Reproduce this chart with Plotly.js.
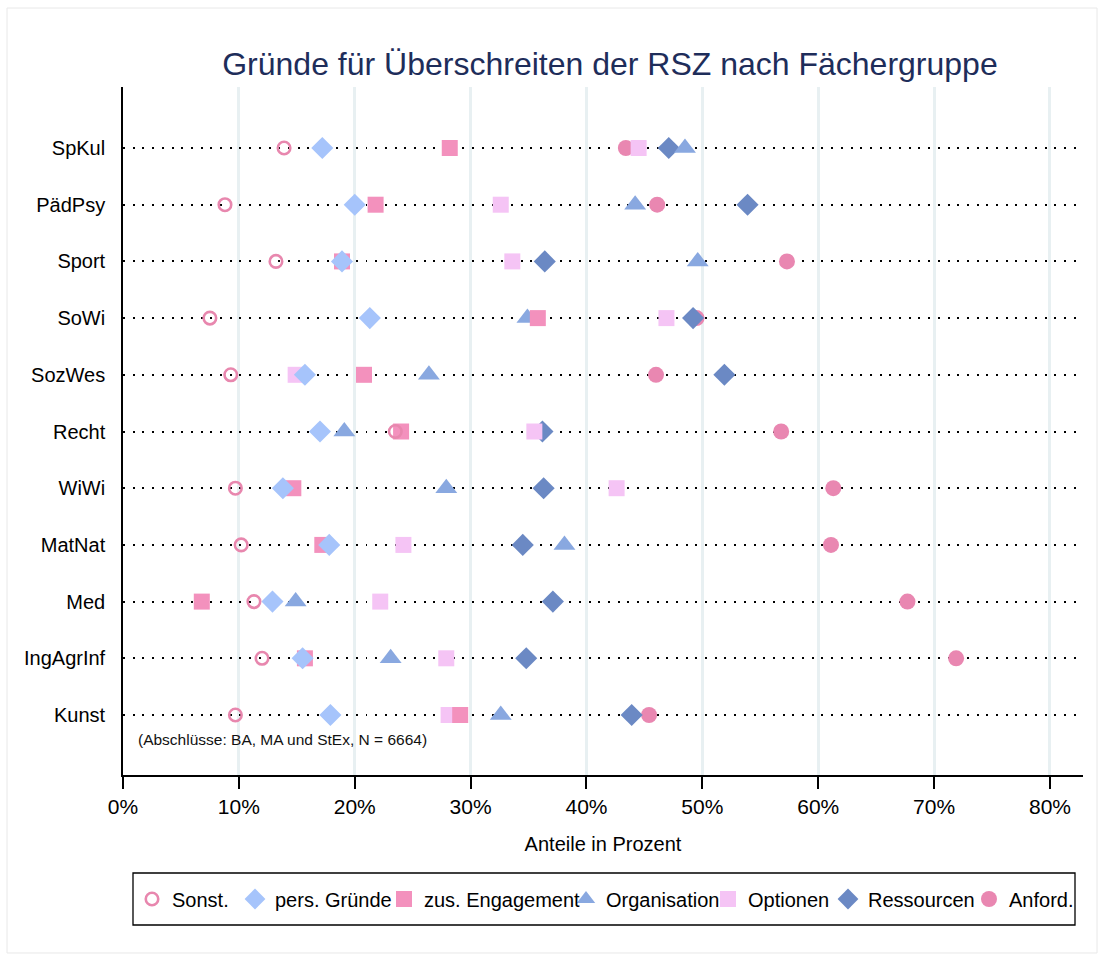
<!DOCTYPE html>
<html>
<head>
<meta charset="utf-8">
<script src="https://cdn.plot.ly/plotly-3.0.1.min.js"></script>
<style>html,body{margin:0;padding:0;background:#fff;}#chart{width:1105px;height:961px;}</style>
</head>
<body>
<div id="chart"></div>
<script>
// Categories, top to bottom as shown
const categories = ["SpKul","PädPsy","Sport","SoWi","SozWes","Recht","WiWi","MatNat","Med","IngAgrInf","Kunst"];

// Series values (percent), in the same order as categories
const sonst        = [13.9, 8.8, 13.2, 7.5, 9.3, 23.5, 9.7, 10.2, 11.3, 12.0, 9.7];
const persGruende  = [17.2, 20.0, 18.9, 21.3, 15.7, 17.0, 13.8, 17.8, 12.9, 15.5, 17.9];
const zusEngage    = [28.2, 21.8, 18.9, 35.8, 20.8, 24.0, 14.7, 17.2, 6.8, 15.7, 29.1];
const organisation = [48.5, 44.2, 49.6, 34.9, 26.4, 19.1, 27.9, 38.1, 14.9, 23.1, 32.6];
const optionen     = [44.5, 32.6, 33.6, 46.9, 14.9, 35.5, 42.6, 24.2, 22.2, 27.9, 28.1];
const ressourcen   = [47.1, 53.9, 36.4, 49.2, 51.9, 36.2, 36.3, 34.5, 37.1, 34.8, 43.9];
const anford       = [43.4, 46.1, 57.3, 49.5, 46.0, 56.8, 61.3, 61.1, 67.7, 71.9, 45.4];

const xTicks = [0, 10, 20, 30, 40, 50, 60, 70, 80];
const xTickLabels = ["0%","10%","20%","30%","40%","50%","60%","70%","80%"];

const seriesNames = ["Sonst.","pers. Gründe","zus. Engagement","Organisation","Optionen","Ressourcen","Anford."];

const font = "Liberation Sans, Arial, sans-serif";

// plot area geometry (pixels) used to place legend entries
const PL = 123, PW = 960, PB = 775, PH = 688;
const legendSymbolX = [152, 255, 404, 586, 728, 848, 989];
const legendY = 899;

function tr(idx, vals, symbol, color, size, open) {
  const m = {symbol: symbol, size: size, color: color, line: {width: 0}};
  if (open) { m.color = 'rgba(0,0,0,0)'; m.line = {width: 2.6, color: color}; }
  return {type: 'scatter', mode: 'markers', name: seriesNames[idx], x: vals, y: categories,
          marker: m, cliponaxis: false, hoverinfo: 'x+y+name',
          legend: idx === 0 ? 'legend' : 'legend' + (idx + 1)};
}

// Drawn in reverse legend order (later series beneath earlier ones)
const data = [
  tr(6, anford, 'circle', '#e987b1', 16, false),
  tr(5, ressourcen, 'diamond', '#6b89c4', 17, false),
  tr(4, optionen, 'square', '#f5c4f5', 16, false),
  tr(3, organisation, 'triangle-up', '#89a8e0', 19, false),
  tr(2, zusEngage, 'square', '#f391bd', 16, false),
  tr(1, persGruende, 'diamond', '#a6c4fb', 17, false),
  tr(0, sonst, 'circle', '#e887ae', 12.5, true)
];

const layout = {
  width: 1105, height: 961,
  margin: {l: 123, r: 22, t: 87, b: 186},
  paper_bgcolor: '#ffffff', plot_bgcolor: '#ffffff',
  font: {family: font, color: '#000'},
  title: {text: 'Gründe für Überschreiten der RSZ nach Fächergruppe',
          font: {family: font, size: 32, color: '#1e2d5a'},
          xref: 'container', x: 0.552, xanchor: 'center',
          yref: 'container', y: 0.934, yanchor: 'middle'},
  xaxis: {
    range: [0, 82.85], tickmode: 'array', tickvals: xTicks, ticktext: xTickLabels,
    showgrid: true, gridcolor: '#e8f0f2', gridwidth: 2.5,
    zeroline: false, showline: true, linecolor: '#000', linewidth: 1.6,
    ticks: 'outside', ticklen: 12, tickwidth: 1.6, tickcolor: '#000',
    tickfont: {family: font, size: 21, color: '#000'},
    title: {text: 'Anteile in Prozent', font: {family: font, size: 20, color: '#000'}, standoff: 20},
    fixedrange: true
  },
  yaxis: {
    type: 'category', categoryorder: 'array', categoryarray: categories.slice().reverse(),
    range: [-1.058, 11.076],
    showgrid: true, gridcolor: '#000', gridwidth: 2, griddash: '2px,7.7px',
    zeroline: false, showline: true, linecolor: '#000', linewidth: 1.6,
    ticks: '', ticklabelstandoff: 12,
    tickfont: {family: font, size: 20, color: '#000'},
    fixedrange: true
  },
  showlegend: true,
  annotations: [{
    text: '(Abschlüsse: BA, MA und StEx, N = 6664)',
    xref: 'paper', x: 0.014, xanchor: 'left',
    yref: 'y', y: -0.44, yanchor: 'middle',
    showarrow: false, font: {family: font, size: 15.5, color: '#111'}
  }],
  shapes: [
    {type: 'rect', xref: 'paper', yref: 'paper',
     x0: -0.1208, x1: 1.0146, y0: -0.2587, y1: 1.1148,
     line: {color: '#e8e8e8', width: 1}, fillcolor: 'rgba(0,0,0,0)', layer: 'below'},
    {type: 'rect', xref: 'paper', yref: 'paper',
     x0: (133 - PL) / PW, x1: (1075 - PL) / PW, y0: (PB - 925) / PH, y1: (PB - 873) / PH,
     line: {color: '#000', width: 1.3}, fillcolor: 'rgba(0,0,0,0)', layer: 'above'}
  ]
};

legendSymbolX.forEach(function (sx, i) {
  const key = i === 0 ? 'legend' : 'legend' + (i + 1);
  layout[key] = {
    orientation: 'h', x: (sx - 20 - PL) / PW, xanchor: 'left',
    y: (PB - legendY) / PH, yanchor: 'middle',
    borderwidth: 0, bgcolor: 'rgba(0,0,0,0)',
    font: {family: font, size: 20, color: '#000'},
    itemclick: false, itemdoubleclick: false
  };
});

Plotly.newPlot('chart', data, layout, {displayModeBar: false});
</script>
</body>
</html>
